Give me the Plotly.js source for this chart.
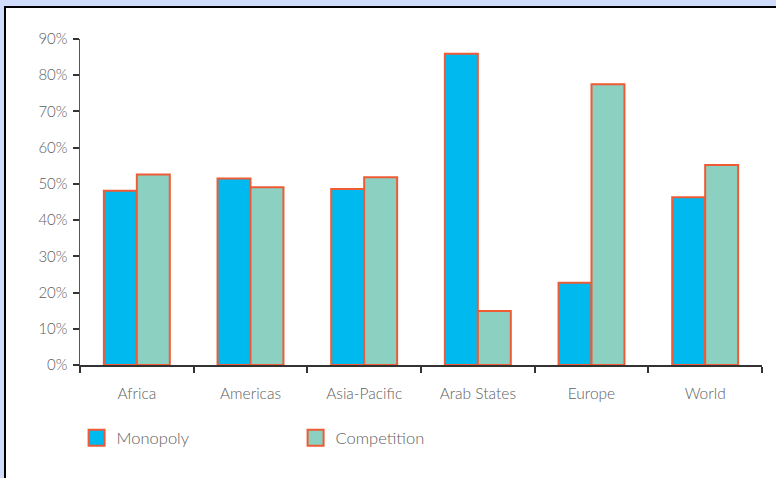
<!DOCTYPE html>
<html>
<head>
<meta charset="utf-8">
<script src="https://cdn.plot.ly/plotly-3.0.1.min.js"></script>
<style>
  html, body { margin: 0; padding: 0; background: #d0dcfc; width: 776px; height: 478px; overflow: hidden; }
  #frame { position: absolute; left: 4px; top: 6px; width: 772px; height: 472px; border-left: 2px solid #000; border-top: 2px solid #000; background: #fff; }
  #chart { width: 770px; height: 470px; }
</style>
</head>
<body>
<div id="frame"><div id="chart"></div></div>
<script>
const categories = ["Africa", "Americas", "Asia-Pacific", "Arab States", "Europe", "World"];
const monopoly = [48.1, 51.5, 48.6, 85.9, 22.7, 46.3];
const competition = [52.6, 49.1, 51.8, 14.9, 77.5, 55.2];
const seriesNames = ["Monopoly", "Competition"];
const yTicks = [0, 10, 20, 30, 40, 50, 60, 70, 80, 90];
const yTickLabels = ["0%", "10%", "20%", "30%", "40%", "50%", "60%", "70%", "80%", "90%"];

const outline = "#ef5b34";
const colMono = "#00b9ef";
const colComp = "#8bd0c0";
const textCol = "#606060";
const fontFam = "Lato, 'DejaVu Sans', sans-serif";

const traces = [
  { type: "bar", x: categories, y: monopoly, name: seriesNames[0], showlegend: false,
    marker: { color: colMono, line: { color: outline, width: 2 } } },
  { type: "bar", x: categories, y: competition, name: seriesNames[1], showlegend: false,
    marker: { color: colComp, line: { color: outline, width: 2 } } },
  { type: "scatter", mode: "markers", x: [null], y: [null], name: seriesNames[0],
    marker: { symbol: "square", size: 16, color: colMono, line: { color: outline, width: 2 } } },
  { type: "scatter", mode: "markers", x: [null], y: [null], name: seriesNames[1],
    marker: { symbol: "square", size: 16, color: colComp, line: { color: outline, width: 2 } } }
];

const layout = {
  width: 770, height: 470,
  margin: { l: 74, r: 14, t: 31, b: 113 },
  paper_bgcolor: "#ffffff", plot_bgcolor: "#ffffff",
  font: { family: fontFam, color: textCol, size: 15, weight: 300 },
  barmode: "group", bargap: 0.42, bargroupgap: 0,
  xaxis: {
    type: "category", range: [-0.5, 5.5], tickson: "boundaries",
    ticks: "outside", ticklen: 6, tickwidth: 2, tickcolor: "#333",
    showline: true, linecolor: "#333", linewidth: 2, showgrid: false, zeroline: false,
    ticklabelstandoff: 13,
    tickfont: { size: 15.5, color: textCol, family: fontFam, weight: 300 }
  },
  yaxis: {
    range: [0, 90], tickmode: "array", tickvals: yTicks, ticktext: yTickLabels,
    ticks: "outside", ticklen: 6, tickwidth: 2, tickcolor: "#333",
    showline: true, linecolor: "#555", linewidth: 1.5, showgrid: false, zeroline: false,
    ticklabelstandoff: 2,
    tickfont: { size: 15, color: textCol, family: fontFam, weight: 300 }
  },
  legend: {
    orientation: "h", x: -0.005, xanchor: "left", y: -0.17, yanchor: "top",
    itemsizing: "trace", entrywidth: 174, entrywidthmode: "pixels",
    font: { size: 16.5, color: textCol, family: fontFam, weight: 300 }, bgcolor: "rgba(0,0,0,0)"
  },
  showlegend: true
};

Plotly.newPlot("chart", traces, layout, { displayModeBar: false, staticPlot: true });
</script>
</body>
</html>
